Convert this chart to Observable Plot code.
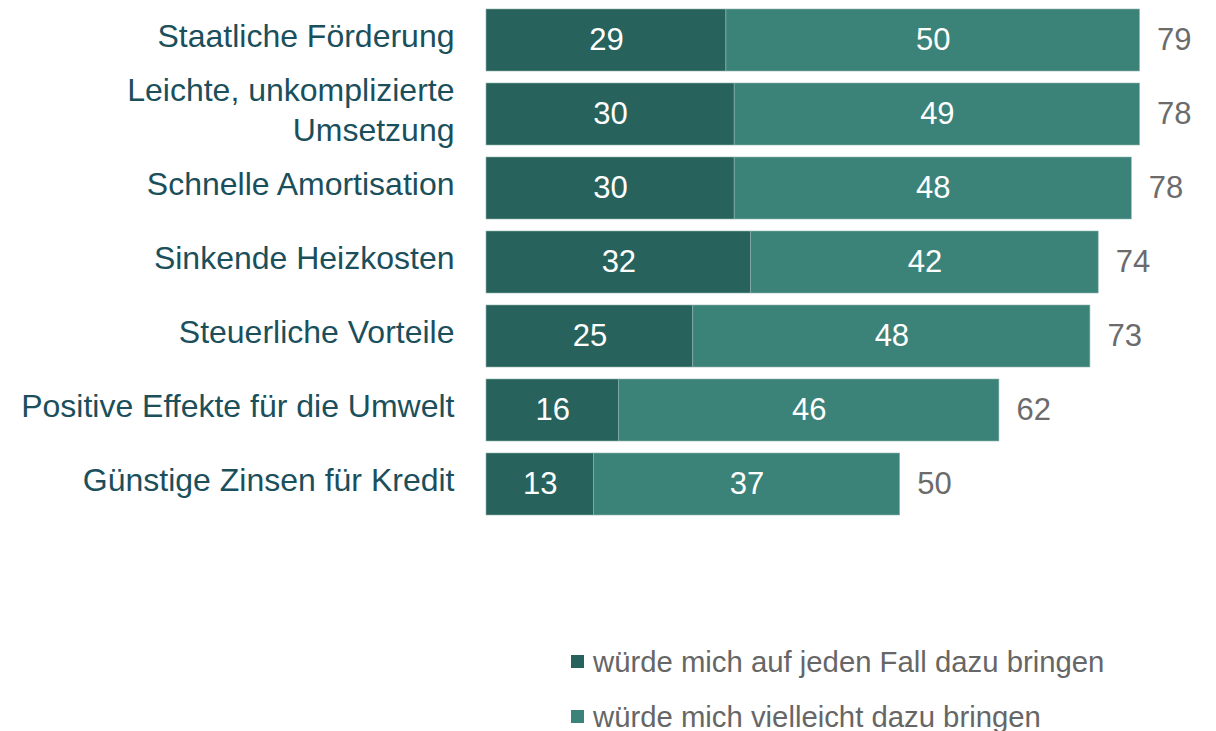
<!DOCTYPE html>
<html><head><meta charset="utf-8">
<script src="https://cdn.jsdelivr.net/npm/d3@7"></script>
<script src="https://cdn.jsdelivr.net/npm/@observablehq/plot@0.6"></script>
<style>
body{margin:0;background:#fff;font-family:"Liberation Sans",Arial,sans-serif;}
#legend{position:absolute;left:571px;top:634px;font-size:29.3px;color:#666;}
.li{display:flex;align-items:center;height:55px;}
.sw{width:13px;height:13px;margin-right:9px;}
</style></head><body>
<div id="chart"></div>
<div id="legend"></div>
<script>
const categories = ["Staatliche Förderung","Leichte, unkomplizierte\nUmsetzung","Schnelle Amortisation","Sinkende Heizkosten","Steuerliche Vorteile","Positive Effekte für die Umwelt","Günstige Zinsen für Kredit"];
const definitely = [29,30,30,32,25,16,13];
const maybe = [50,49,48,42,48,46,37];
const totals = [79,78,78,74,73,62,50];
const seriesNames = ["würde mich auf jeden Fall dazu bringen","würde mich vielleicht dazu bringen"];
const colors = ["#27635c","#3b8279"];

const rows = [];
categories.forEach((c,i)=>{
  rows.push({cat:c, series:seriesNames[0], value:definitely[i]});
  rows.push({cat:c, series:seriesNames[1], value:maybe[i]});
});
const totalRows = categories.map((c,i)=>({cat:c, end:definitely[i]+maybe[i], total:totals[i]}));

const chart = Plot.plot({
  width:1216, height:560,
  marginLeft:486, marginRight:2, marginTop:7, marginBottom:42,
  style:{fontFamily:"Liberation Sans, Arial, sans-serif", fontSize:"31px", background:"#fff"},
  x:{domain:[0,88], axis:null},
  y:{domain:categories, axis:null, paddingInner:0.16, paddingOuter:0},
  color:{domain:seriesNames, range:colors},
  marks:[
    Plot.barX(rows, Plot.stackX({x:"value", y:"cat", fill:"series", stroke:"#8fb5b0", strokeWidth:0.6})),
    Plot.text(rows, Plot.stackX({x:"value", y:"cat", z:"series", text:d=>String(d.value), fill:"white", fontSize:31})),
    Plot.text(totalRows, {x:"end", y:"cat", text:d=>String(d.total), textAnchor:"start", dx:17, fill:"#6b6b6b", fontSize:31}),
    Plot.text(categories, {x:0, y:d=>d, text:d=>d, textAnchor:"end", dx:-32, dy:-6, fill:"#1a4f5b", fontSize:32, lineHeight:1.22})
  ]
});
document.getElementById("chart").appendChild(chart);

const lg = document.getElementById("legend");
seriesNames.forEach((s,i)=>{
  const d = document.createElement("div"); d.className="li";
  const sw = document.createElement("span"); sw.className="sw"; sw.style.background=colors[i];
  const t = document.createElement("span"); t.textContent=s;
  d.appendChild(sw); d.appendChild(t); lg.appendChild(d);
});
</script></body></html>
